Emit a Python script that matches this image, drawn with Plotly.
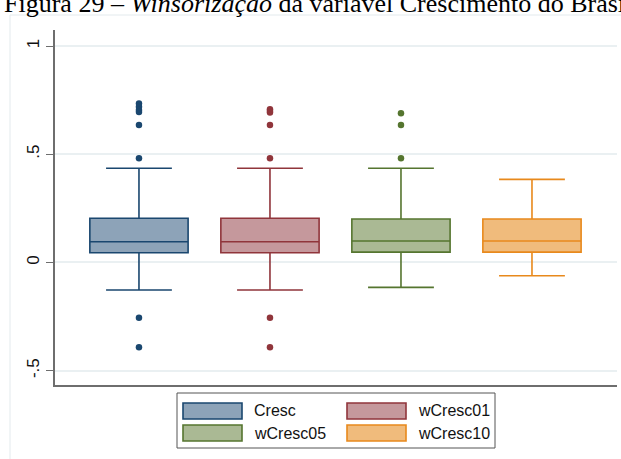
import plotly.graph_objects as go

# ---- data ----
series = ["Cresc", "wCresc01", "wCresc05", "wCresc10"]
q1 = [0.045, 0.045, 0.048, 0.048]
median = [0.096, 0.096, 0.099, 0.099]
q3 = [0.204, 0.204, 0.201, 0.201]
lower_fence = [-0.127, -0.127, -0.115, -0.061]
upper_fence = [0.435, 0.435, 0.435, 0.384]
outliers = [
    [0.735, 0.72, 0.705, 0.695, 0.635, 0.481, -0.255, -0.392],
    [0.708, 0.700, 0.693, 0.635, 0.481, -0.255, -0.392],
    [0.689, 0.635, 0.481],
    [],
]
line_colors = ["#1A476F", "#90353B", "#55752F", "#E8891C"]
fill_colors = ["#8DA3B8", "#C5989C", "#AAB994", "#F0BB7C"]
ytick_vals = [-0.5, 0, 0.5, 1]
ytick_text = ["-.5", "0", ".5", "1"]
caption = "Figura 29 – <i>Winsorização</i> da variável Crescimento do Brasil"

W, H = 621, 459
L, R, T, B = 55, 4, 30, 74
pw, ph = W - L - R, H - T - B

def px(x):
    return (x - L) / pw

def py(y):
    return (H - B - y) / ph

fig = go.Figure()
for i, name in enumerate(series):
    fig.add_trace(go.Box(
        x=[i], q1=[q1[i]], median=[median[i]], q3=[q3[i]],
        lowerfence=[lower_fence[i]], upperfence=[upper_fence[i]],
        name=name, width=0.75, whiskerwidth=0.67,
        fillcolor=fill_colors[i], line=dict(color=line_colors[i], width=1.6),
        boxpoints=False, showlegend=False, hoverinfo="skip",
    ))
    if outliers[i]:
        fig.add_trace(go.Scatter(
            x=[i] * len(outliers[i]), y=outliers[i], mode="markers",
            marker=dict(color=line_colors[i], size=6.5, line=dict(width=0)),
            showlegend=False, hoverinfo="skip",
        ))

shapes = []
annotations = []
# outer graph region border
shapes.append(dict(type="rect", xref="paper", yref="paper",
                   x0=px(10), x1=px(640), y0=py(480), y1=py(15),
                   line=dict(color="#E3EAED", width=1), layer="below"))
# legend frame
shapes.append(dict(type="rect", xref="paper", yref="paper",
                   x0=px(177), x1=px(495), y0=py(448), y1=py(393),
                   line=dict(color="#555555", width=1), fillcolor="white"))
leg_pos = [(183, 403), (347, 403), (183, 425), (347, 425)]
for i, name in enumerate(series):
    x0, y0 = leg_pos[i]
    shapes.append(dict(type="rect", xref="paper", yref="paper",
                       x0=px(x0), x1=px(x0 + 59), y0=py(y0 + 16), y1=py(y0),
                       fillcolor=fill_colors[i],
                       line=dict(color=line_colors[i], width=1.6)))
    annotations.append(dict(xref="paper", yref="paper", x=px(x0 + 69), y=py(y0 + 8),
                            text=name, showarrow=False, xanchor="left", yanchor="middle",
                            font=dict(family="Liberation Sans, Arial", size=16, color="#111111")))
annotations.append(dict(xref="paper", yref="paper", x=px(2), y=py(14),
                        text=caption, showarrow=False, xanchor="left", yanchor="bottom",
                        yshift=-6,
                        font=dict(family="Liberation Serif, Times New Roman", size=26, color="#000000")))

fig.update_layout(
    width=W, height=H,
    margin=dict(l=L, r=R, t=T, b=B),
    paper_bgcolor="white", plot_bgcolor="white",
    shapes=shapes, annotations=annotations,
    showlegend=False,
    xaxis=dict(range=[-0.641, 3.649], showticklabels=False, ticks="",
               showgrid=False, zeroline=False, showline=True,
               linecolor="#6E6E6E", linewidth=1.5),
    yaxis=dict(range=[-0.566, 1.074], tickvals=ytick_vals, ticktext=ytick_text,
               tickangle=-90, ticks="outside", ticklen=7, tickcolor="#6E6E6E",
               tickwidth=1.2, showgrid=True, gridcolor="#EAF0F2", gridwidth=1.5,
               zeroline=False, showline=True, linecolor="#6E6E6E", linewidth=1.5,
               tickfont=dict(family="Liberation Sans, Arial", size=17, color="#111111")),
)

fig.write_html("out.html")
